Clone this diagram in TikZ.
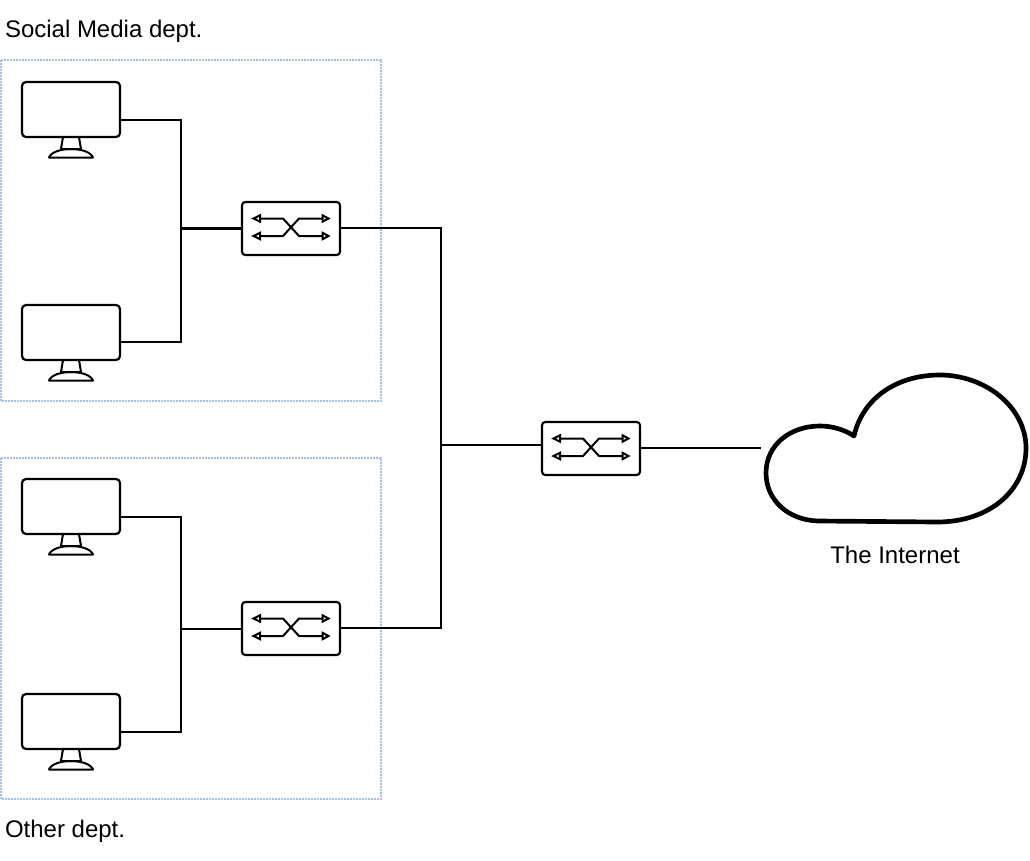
\documentclass[tikz,border=0pt]{standalone}
\usepackage{fontspec}
\setmainfont{Liberation Sans}
\tikzset{
  px/.style={x=0.75pt,y=-0.75pt},
  wire/.style={line width=1.65pt,line join=miter},
  group/.style={draw=groupblue,line width=1.5pt,dash pattern=on 1.2pt off 1.05pt},
  monitorbox/.style={rectangle,minimum width=73.5pt,minimum height=57pt,inner sep=0pt,outer sep=0pt},
  switchbox/.style={rectangle,draw,rounded corners=2.5pt,line width=1.6pt,minimum width=73.5pt,minimum height=39.75pt,inner sep=0pt,outer sep=0pt},
  glyph/.style={line width=1.5pt,line join=round,line cap=round},
  tip/.style={fill=white,draw,line width=1.5pt,line join=miter},
  label/.style={inner sep=0pt,outer sep=0pt,font=\fontsize{18pt}{21pt}\selectfont}
}
\definecolor{groupblue}{HTML}{A3BFEA}
\newcommand{\monitorat}[3]{%
  \node[monitorbox] (#1) at (#2,#3) {};
  \begin{scope}[shift={(#2,#3)},line width=1.65pt,line join=round]
    \draw[rounded corners=3pt] (-49,-38) rectangle (49,17);
    \draw[line width=1.5pt] (-8,17) -- (-10,29) (8,17) -- (10,29) (-10,29) -- (10,29);
    \draw[line width=1.5pt] (-22,37.5) .. controls (-20,32) and (-10,29) .. (0,29) .. controls (10,29) and (20,32) .. (22,37.5) -- cycle;
  \end{scope}}
\newcommand{\switchat}[3]{%
  \node[switchbox] (#1) at (#2,#3) {};
  \begin{scope}[shift={(#2,#3)}]
    \draw[glyph] (-31,-10) -- (-8,-10) -- (8,7.5) -- (32,7.5);
    \draw[glyph] (-31,7.5) -- (-8,7.5) -- (8,-10) -- (32,-10);
    \foreach \yy in {-10,7.5}{
      \draw[tip] (-37.5,\yy) -- (-31,\yy-3.2) -- (-31,\yy+3.2) -- cycle;
      \draw[tip] (37.5,\yy) -- (31.5,\yy-3.2) -- (31.5,\yy+3.2) -- cycle;
    }
  \end{scope}}
\begin{document}
\begin{tikzpicture}[px]
\useasboundingbox (0,0) rectangle (1030,860);
% department groups
\draw[group] (1,60) rectangle (381,401);
\draw[group] (1,458) rectangle (381,799);
% labels
\node[label,anchor=base west] (socialLabel) at (5,37) {Social Media dept.};
\node[label,anchor=base west] (otherLabel) at (5,837) {Other dept.};
\node[label,anchor=base] (netLabel) at (895,563) {The Internet};
% devices
\monitorat{m1}{71}{120}
\monitorat{m2}{71}{343}
\monitorat{m3}{71}{517}
\monitorat{m4}{71}{732}
\switchat{s1}{291}{228.5}
\switchat{s2}{291}{628.5}
\switchat{s3}{591}{448.5}
% cloud
\draw[line width=3.5pt,line join=round] (854,436)
  .. controls (862,400) and (895,374) .. (943,375)
  .. controls (990,377) and (1026,410) .. (1026,448)
  .. controls (1026,490) and (990,522) .. (937,522)
  -- (818,521)
  .. controls (788,520) and (766,500) .. (766,473)
  .. controls (766,445) and (790,426) .. (820,426)
  .. controls (833,426) and (845,430) .. (854,436) -- cycle;
% connector points
\coordinate (busA) at (181,228.5);
\coordinate (busB) at (181,629);
\coordinate (busC) at (441,445);
\coordinate (m2out) at (120,342);
\coordinate (s1in) at (242,228.5);
\coordinate (s2in) at (242,629);
\coordinate (s1out) at (340,228);
\coordinate (s2out) at (340,628);
\coordinate (s3in) at (542,445);
\coordinate (s3out) at (640,448);
\coordinate (cloudport) at (761,448);
% connectors
\draw[wire] (m1.east) -| (busA);
\draw[wire] (m2out) -| (busA);
\draw[wire] (busA) -- (s1in);
\draw[wire] (m3.east) -| (busB);
\draw[wire] (m4.east) -| (busB);
\draw[wire] (busB) -- (s2in);
\draw[wire] (s1out) -| (busC);
\draw[wire] (s2out) -| (busC);
\draw[wire] (busC) -- (s3in);
\draw[wire] (s3out) -- (cloudport);
\end{tikzpicture}
\end{document}
